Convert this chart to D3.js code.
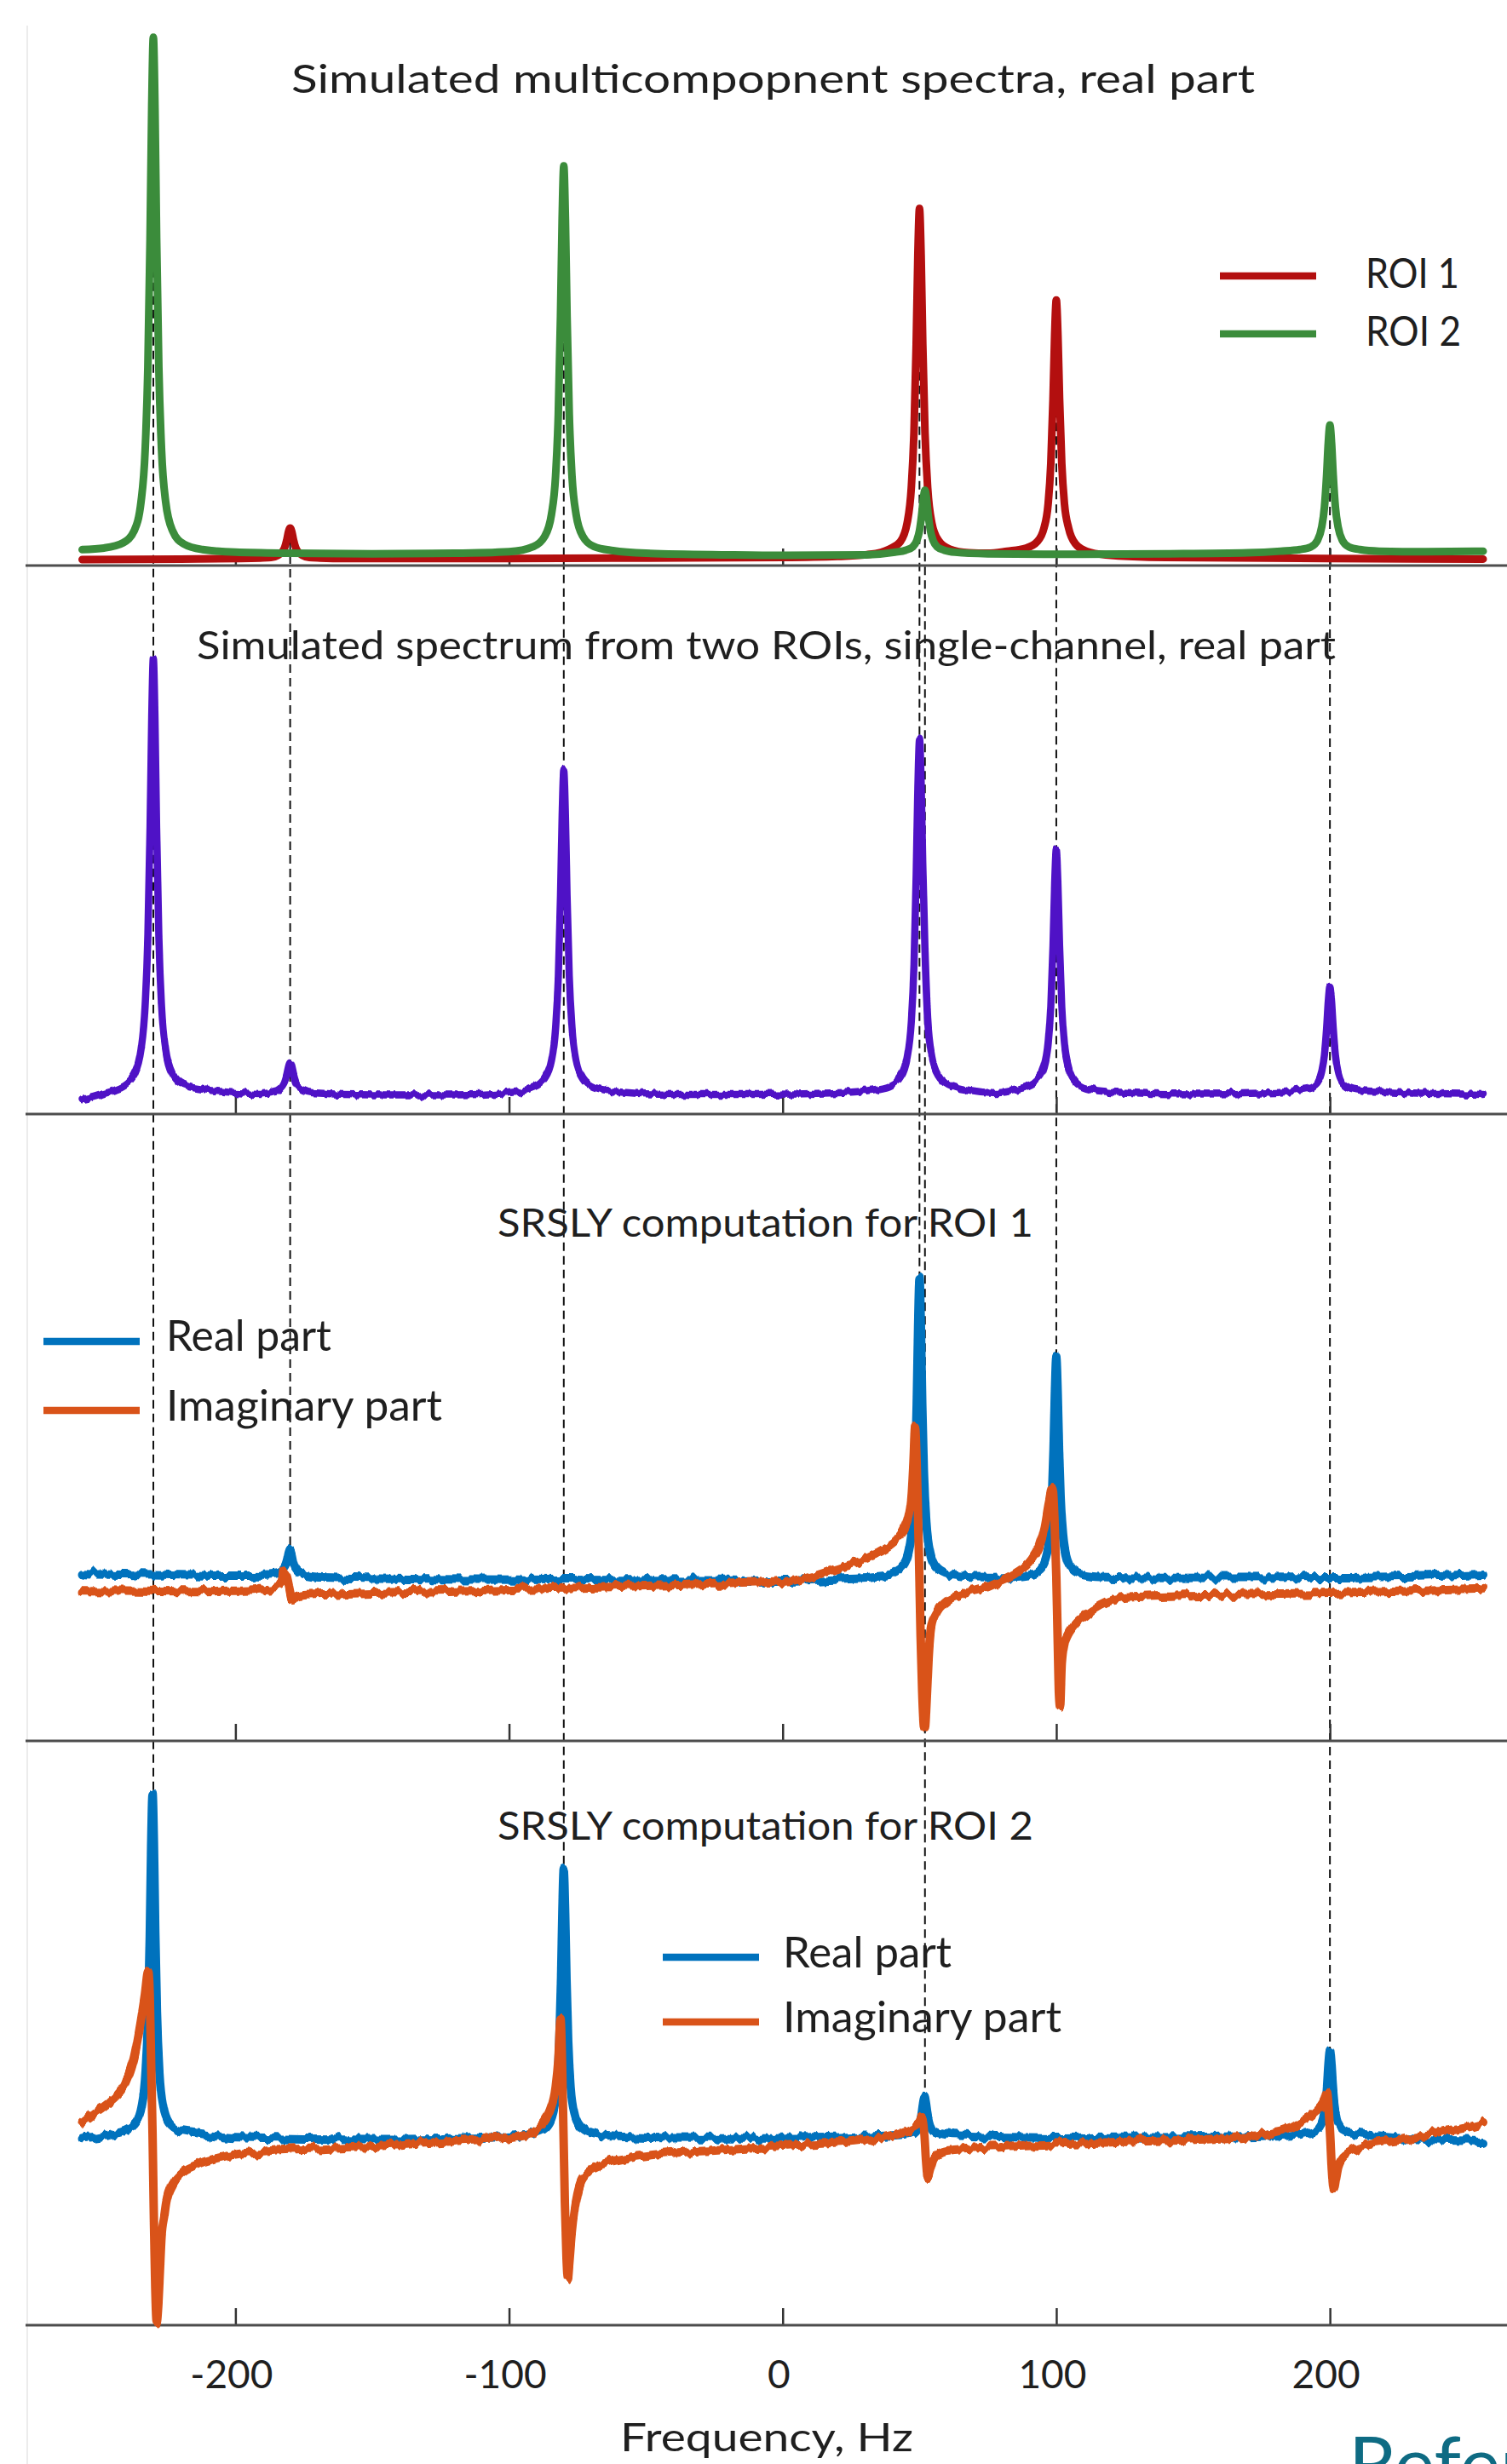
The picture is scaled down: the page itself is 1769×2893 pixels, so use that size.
<!DOCTYPE html>
<html>
<head>
<meta charset="utf-8">
<script src="https://cdn.jsdelivr.net/npm/d3@7"></script>
<style>
  body { margin: 0; background: #fff; }
  svg { display: block; font-family: Lato, "Open Sans", sans-serif; }
</style>
</head>
<body>
<div id="chart"></div>
<script>
// frequency axis
const freqTicks = [-200, -100, 0, 100, 200];
const panelTitles = [
  "Simulated multicompopnent spectra, real part",
  "Simulated spectrum from two ROIs, single-channel, real part",
  "SRSLY computation for ROI 1",
  "SRSLY computation for ROI 2",
];
const roiLabels = ["ROI 1", "ROI 2"];
const partLabels = ["Real part", "Imaginary part"];

// panel 1, ROI 1 real part (red)
const roi1Real = [
  [-256, 0], [-220, 0.001], [-198, 0.002], [-191, 0.003], [-187, 0.004], [-184.5, 0.008],
  [-183, 0.014], [-182, 0.023], [-181.2, 0.038], [-180.6, 0.053], [-180, 0.06], [-179.4, 0.053],
  [-178.8, 0.038], [-178, 0.023], [-177, 0.014], [-175.5, 0.008], [-173, 0.004], [-169, 0.003],
  [-160, 0.002], [-100, 0.002], [-50, 0.003], [0, 0.004], [20, 0.006], [32, 0.01], [39, 0.02],
  [43, 0.034], [45.5, 0.07], [47, 0.136], [48, 0.244], [48.8, 0.41], [49.4, 0.578], [50, 0.668],
  [50.6, 0.578], [51.2, 0.41], [52, 0.244], [53, 0.136], [54.5, 0.07], [57, 0.036], [61, 0.02],
  [68, 0.013], [75, 0.012], [82, 0.016], [89, 0.022], [93, 0.034], [95.5, 0.06], [97, 0.105],
  [98, 0.183], [98.8, 0.305], [99.4, 0.427], [100, 0.494], [100.6, 0.427], [101.2, 0.305],
  [102, 0.183], [103, 0.105], [104.5, 0.06], [107, 0.03], [111, 0.016], [118, 0.009],
  [140, 0.004], [200, 0.002], [256, 0.001],
];

// panel 1, ROI 2 real part (green)
const roi2Real = [
  [-256, 0.019], [-248, 0.022], [-241, 0.032], [-237, 0.055], [-234.5, 0.11], [-233, 0.208],
  [-232, 0.366], [-231.2, 0.611], [-230.6, 0.859], [-230, 0.994], [-229.4, 0.859], [-228.8, 0.611],
  [-228, 0.366], [-227, 0.208], [-225.5, 0.11], [-223, 0.055], [-219, 0.03], [-212, 0.019],
  [-200, 0.014], [-180, 0.012], [-150, 0.011], [-120, 0.012], [-100, 0.015], [-91, 0.025],
  [-87, 0.044], [-84.5, 0.086], [-83, 0.159], [-82, 0.277], [-81.2, 0.462], [-80.6, 0.647],
  [-80, 0.749], [-79.4, 0.647], [-78.8, 0.462], [-78, 0.277], [-77, 0.159], [-75.5, 0.086],
  [-73, 0.044], [-69, 0.025], [-62, 0.017], [-50, 0.012], [-20, 0.009], [0, 0.008], [30, 0.009],
  [41, 0.014], [45, 0.018], [47.5, 0.024], [49, 0.036], [50, 0.055], [50.8, 0.085], [51.4, 0.115],
  [52, 0.132], [52.6, 0.115], [53.2, 0.085], [54, 0.055], [55, 0.036], [56.5, 0.024], [59, 0.018],
  [63, 0.014], [75, 0.011], [100, 0.01], [140, 0.011], [170, 0.013], [182, 0.016], [189, 0.019],
  [193, 0.024], [195.5, 0.037], [197, 0.062], [198, 0.1], [198.8, 0.161], [199.4, 0.222],
  [200, 0.256], [200.6, 0.222], [201.2, 0.161], [202, 0.1], [203, 0.062], [204.5, 0.037],
  [207, 0.024], [211, 0.019], [218, 0.016], [235, 0.015], [256, 0.016],
];

// panel 2, single-channel spectrum (purple)
const singleChannel = [
  [-256, -0.016], [-252, -0.01], [-248, -0.002], [-244, 0.006], [-241, 0.014], [-237, 0.04],
  [-234.5, 0.098], [-233, 0.2], [-232, 0.36], [-231.2, 0.61], [-230.6, 0.862], [-230, 1.0],
  [-229.4, 0.862], [-228.8, 0.61], [-228, 0.36], [-227, 0.2], [-225.5, 0.1], [-223, 0.044],
  [-219, 0.018], [-212, 0.008], [-200, 0], [-190, -0.002], [-185, 0.003], [-183, 0.013],
  [-182, 0.024], [-181.2, 0.041], [-180.6, 0.058], [-180, 0.067], [-179.4, 0.058], [-178.8, 0.041],
  [-178, 0.024], [-177, 0.013], [-175.5, 0.007], [-172, 0], [-150, -0.005], [-120, -0.005],
  [-100, 0], [-91, 0.013], [-87, 0.033], [-84.5, 0.074], [-83, 0.149], [-82, 0.267], [-81.2, 0.453],
  [-80.6, 0.64], [-80, 0.743], [-79.4, 0.64], [-78.8, 0.453], [-78, 0.267], [-77, 0.149],
  [-75.5, 0.074], [-73, 0.033], [-69, 0.013], [-60, 0.002], [-40, -0.004], [-10, -0.004], [20, 0],
  [32, 0.006], [39, 0.015], [43, 0.036], [45.5, 0.082], [47, 0.163], [48, 0.294], [48.8, 0.5],
  [49.4, 0.703], [50, 0.816], [50.6, 0.72], [51.2, 0.53], [52, 0.33], [53, 0.17], [54.5, 0.085],
  [57, 0.04], [61, 0.018], [68, 0.006], [78, 0], [86, 0.008], [89, 0.014], [93, 0.03], [95.5, 0.058],
  [97, 0.112], [98, 0.201], [98.8, 0.341], [99.4, 0.482], [100, 0.559], [100.6, 0.482], [101.2, 0.341],
  [102, 0.201], [103, 0.112], [104.5, 0.058], [107, 0.025], [111, 0.01], [120, 0.002], [150, -0.003],
  [180, 0], [189, 0.007], [193, 0.012], [195.5, 0.024], [197, 0.049], [198, 0.087], [198.8, 0.148],
  [199.4, 0.209], [200, 0.243], [200.6, 0.209], [201.2, 0.148], [202, 0.087], [203, 0.049],
  [204.5, 0.024], [207, 0.012], [211, 0.006], [220, 0.002], [240, -0.002], [256, -0.004],
];

// panel 3, SRSLY for ROI 1
const srsly1Real = [
  [-256, 0.008], [-230, 0.004], [-200, 0], [-190, 0.001], [-186, 0.003], [-184, 0.007], [-182.5, 0.016],
  [-181.6, 0.03], [-181, 0.049], [-180.5, 0.071], [-180, 0.083], [-179.5, 0.071], [-179, 0.049],
  [-178.4, 0.03], [-177.5, 0.016], [-176, 0.007], [-174, 0], [-168, -0.006], [-130, -0.012],
  [-80, -0.014], [-30, -0.016], [0, -0.017], [20, -0.01], [34, -0.003], [40, 0.006], [44, 0.03],
  [46, 0.075], [47.5, 0.179], [48.4, 0.352], [49, 0.582], [49.5, 0.844], [50, 1.0], [50.5, 0.844],
  [51, 0.582], [51.6, 0.352], [52.5, 0.179], [54, 0.075], [56, 0.03], [60, 0.006], [66, -0.005],
  [75, -0.008], [84, -0.004], [90, 0.002], [94, 0.02], [96, 0.053], [97.5, 0.13], [98.4, 0.256],
  [99, 0.425], [99.5, 0.617], [100, 0.734], [100.5, 0.617], [101, 0.425], [101.6, 0.256],
  [102.5, 0.13], [104, 0.053], [106, 0.02], [110, 0.002], [116, -0.004], [140, -0.008],
  [200, -0.006], [240, 0], [256, 0.006],
];
const srsly1Imag = [
  [-256, -0.049], [-240, -0.05], [-220, -0.052], [-200, -0.051], [-190, -0.047], [-185, -0.04],
  [-183, -0.028], [-182.4, 0.011], [-181.4, 0.0], [-180.4, -0.04], [-179.6, -0.075], [-179, -0.083],
  [-178.2, -0.075], [-176.5, -0.068], [-173, -0.064], [-165, -0.062], [-150, -0.057], [-120, -0.051],
  [-100, -0.046], [-70, -0.04], [-50, -0.034], [-25, -0.028], [0, -0.02], [10, -0.005], [20, 0.025],
  [28, 0.05], [34, 0.075], [38, 0.095], [42, 0.125], [44.5, 0.16], [46, 0.2], [47.2, 0.28],
  [47.8, 0.38], [48.4, 0.5], [48.9, 0.4], [49.4, 0.22], [49.9, 0.02], [50.4, -0.2], [51, -0.39],
  [51.6, -0.5], [52, -0.509], [52.6, -0.42], [53.3, -0.28], [54.3, -0.174], [56.4, -0.122],
  [59.5, -0.089], [64.7, -0.063], [70, -0.048], [75, -0.035], [80, -0.015], [85.4, 0.01],
  [90.6, 0.05], [93.7, 0.1], [95.8, 0.17], [97.3, 0.25], [98.6, 0.297], [99.3, 0.2], [100, 0],
  [100.6, -0.25], [101, -0.4], [101.4, -0.437], [102, -0.3], [103, -0.23], [104.2, -0.2],
  [106, -0.174], [111, -0.13], [116, -0.1], [124, -0.075], [140, -0.068], [170, -0.064],
  [200, -0.06], [230, -0.052], [256, -0.045],
];

// panel 4, SRSLY for ROI 2
const srsly2Real = [
  [-256, -0.013], [-250, -0.008], [-246, 0], [-240, 0.012], [-236.3, 0.035], [-234.3, 0.08],
  [-232.8, 0.185], [-231.9, 0.358], [-231.3, 0.588], [-230.8, 0.85], [-230.3, 0.998], [-229.8, 0.85],
  [-229.3, 0.588], [-228.7, 0.358], [-227.8, 0.185], [-226.3, 0.08], [-224.3, 0.035], [-220.3, 0.012],
  [-214, 0.004], [-200, -0.008], [-150, -0.014], [-110, -0.01], [-96, -0.004], [-90, 0.004],
  [-86, 0.025], [-84, 0.06], [-82.5, 0.141], [-81.6, 0.275], [-81, 0.453], [-80.5, 0.656],
  [-80, 0.775], [-79.5, 0.656], [-79, 0.453], [-78.4, 0.275], [-77.5, 0.141], [-76, 0.06],
  [-74, 0.025], [-70, 0.004], [-62, -0.006], [-30, -0.012], [0, -0.012], [35, -0.005], [42, -0.002],
  [46, 0.002], [48, 0.007], [49.3, 0.019], [50.2, 0.039], [50.8, 0.066], [51.3, 0.095], [51.8, 0.113],
  [52.3, 0.095], [52.8, 0.066], [53.4, 0.039], [54.3, 0.019], [55.8, 0.007], [58, 0.002], [62, -0.003],
  [100, -0.01], [150, -0.008], [184, -0.002], [190, 0.003], [194, 0.009], [196, 0.02], [197.5, 0.046],
  [198.4, 0.088], [199, 0.145], [199.5, 0.209], [200, 0.245], [200.5, 0.209], [201, 0.145],
  [201.6, 0.088], [202.5, 0.046], [204, 0.02], [206, 0.009], [210, 0.003], [218, -0.006],
  [235, -0.015], [256, -0.02],
];
const srsly2Imag = [
  [-256, 0.033], [-251, 0.065], [-245.6, 0.098], [-240.3, 0.15], [-237.2, 0.222], [-234.7, 0.328],
  [-233.1, 0.41], [-231.9, 0.478], [-231.3, 0.4], [-230.8, 0.2], [-230.3, 0], [-229.8, -0.25],
  [-229.3, -0.45], [-228.8, -0.55], [-228.2, -0.5], [-227.6, -0.4], [-227, -0.3], [-226, -0.24],
  [-225.3, -0.2], [-222.9, -0.145], [-219.7, -0.113], [-214.5, -0.09], [-204, -0.065], [-188, -0.048],
  [-167, -0.04], [-150, -0.035], [-120, -0.02], [-100, -0.008], [-92, 0.005], [-88, 0.03],
  [-85, 0.073], [-83, 0.14], [-82, 0.22], [-81.2, 0.34], [-80.6, 0.2], [-80.1, 0], [-79.6, -0.2],
  [-79, -0.36], [-78.5, -0.42], [-78, -0.38], [-77.2, -0.3], [-76, -0.22], [-75, -0.175],
  [-72, -0.118], [-65, -0.085], [-50, -0.063], [-20, -0.045], [0, -0.035], [30, -0.018], [42, 0],
  [47, 0.015], [50, 0.032], [51, 0.05], [51.8, 0], [52.4, -0.08], [53, -0.125], [54, -0.1],
  [55, -0.073], [57, -0.055], [60, -0.045], [80, -0.035], [120, -0.023], [160, -0.012], [180, 0.005],
  [186, 0.02], [190, 0.038], [194, 0.06], [196.5, 0.08], [198, 0.1], [199, 0.123], [199.6, 0.07],
  [200.1, 0], [200.7, -0.1], [201.5, -0.158], [202.2, -0.13], [203, -0.095], [204.5, -0.07],
  [206, -0.058], [209, -0.045], [212, -0.035], [225, -0.018], [240, 0.005], [250, 0.02], [256, 0.033],
];

// dashed peak markers: freq, from panel, value, to panel, value
const peakMarkers = [
  [-230, 0, 0.994, 3, 0.998],
  [-180, 0, 0.06, 2, 0.083],
  [-80, 0, 0.749, 3, 0.775],
  [50, 0, 0.668, 2, 1.0],
  [52, 0, 0.22, 3, 0.113],
  [100, 0, 0.494, 2, 0.734],
  [200, 0, 0.256, 3, 0.245],
];

const W = 1769, H = 2893;
const ink = "#1f1f1f";
const colors = { roi1: "#b30f0f", roi2: "#3b8c3b", single: "#4f12c6", re: "#0072bd", im: "#d95319" };

const svg = d3.select("#chart").append("svg").attr("width", W).attr("height", H);
svg.append("rect").attr("width", W).attr("height", H).attr("fill", "#fff");

const x = d3.scaleLinear().domain([-256, 256]).range([96.5, 1741]);

// layout of the four stacked panels (pixel rows for value 0 and 1)
const layout = [
  { y0: 657, y1: 40, axisY: 664, band: [0, 680] },
  { y0: 1283, y1: 773, axisY: 1308, band: [700, 640] },
  { y0: 1850, y1: 1500, axisY: 2044, band: [1400, 680] },
  { y0: 2506, y1: 2106, axisY: 2730, band: [2060, 700] },
];
const yScales = layout.map(p => d3.scaleLinear().domain([0, 1]).range([p.y0, p.y1]));

// jitter filters to mimic the noisy traces
const defs = svg.append("defs");
function addJitter(id, band, seed, scale) {
  const f = defs.append("filter").attr("id", id)
    .attr("filterUnits", "userSpaceOnUse")
    .attr("x", 0).attr("y", band[0]).attr("width", W).attr("height", band[1])
    .attr("color-interpolation-filters", "sRGB");
  f.append("feTurbulence").attr("type", "fractalNoise")
    .attr("baseFrequency", "0.12 0.003").attr("numOctaves", 2).attr("seed", seed).attr("result", "n");
  f.append("feColorMatrix").attr("in", "n").attr("type", "matrix")
    .attr("values", "0 0 0 0 0.5  0 1 0 0 0  0 0 0 0 0  0 0 0 0 1").attr("result", "m");
  f.append("feDisplacementMap").attr("in", "SourceGraphic").attr("in2", "m")
    .attr("scale", scale).attr("xChannelSelector", "R").attr("yChannelSelector", "G");
}

// left border
svg.append("line").attr("x1", 32).attr("x2", 32).attr("y1", 30).attr("y2", H)
  .attr("stroke", "#ececec").attr("stroke-width", 2);

// dashed markers (under the traces)
svg.append("g").selectAll("line").data(peakMarkers).join("line")
  .attr("x1", d => x(d[0])).attr("x2", d => x(d[0]))
  .attr("y1", d => yScales[d[1]](d[2])).attr("y2", d => yScales[d[3]](d[4]))
  .attr("stroke", "#111").attr("stroke-width", 2).attr("stroke-dasharray", "10,6");

// panel baselines and ticks
layout.forEach((p, i) => {
  const axis = d3.axisBottom(x).tickValues(freqTicks).tickSize(-20).tickPadding(41)
    .tickFormat(i === 3 ? (d => String(d)) : "");
  const g = svg.append("g").attr("transform", `translate(0,${p.axisY})`).call(axis);
  g.select(".domain").remove();
  g.selectAll(".tick line").attr("stroke", "#333").attr("stroke-width", 2.5);
  g.selectAll(".tick text").attr("fill", ink).attr("font-size", 46).attr("dx", -5)
    .attr("font-family", "Lato, sans-serif");
  svg.append("line").attr("x1", 30).attr("x2", W).attr("y1", p.axisY).attr("y2", p.axisY)
    .attr("stroke", "#4d4d4d").attr("stroke-width", 3.2);
});

// titles
const titlePos = [[342, 109, 1131], [231, 774, 1337], [584, 1452, 629], [584, 2160, 629]];
svg.append("g").selectAll("text").data(panelTitles).join("text")
  .attr("x", (d, i) => titlePos[i][0]).attr("y", (d, i) => titlePos[i][1])
  .attr("textLength", (d, i) => titlePos[i][2]).attr("lengthAdjust", "spacingAndGlyphs")
  .attr("font-size", 46).attr("fill", ink).text(d => d);

// traces
const series = [
  { data: roi1Real, panel: 0, color: colors.roi1, width: 9 },
  { data: roi2Real, panel: 0, color: colors.roi2, width: 9 },
  { data: singleChannel, panel: 1, color: colors.single, width: 8.5, jitter: [11, 9] },
  { data: srsly1Real, panel: 2, color: colors.re, width: 10, jitter: [21, 11] },
  { data: srsly1Imag, panel: 2, color: colors.im, width: 10, jitter: [37, 11] },
  { data: srsly2Real, panel: 3, color: colors.re, width: 10, jitter: [5, 11] },
  { data: srsly2Imag, panel: 3, color: colors.im, width: 10, jitter: [63, 11] },
];
series.forEach((s, i) => {
  const ys = yScales[s.panel];
  const line = d3.line().x(d => x(d[0])).y(d => ys(d[1])).curve(d3.curveMonotoneX);
  const path = svg.append("path").datum(s.data).attr("d", line)
    .attr("fill", "none").attr("stroke", s.color).attr("stroke-width", s.width)
    .attr("stroke-linejoin", "round").attr("stroke-linecap", "round");
  if (s.jitter) {
    addJitter("jit" + i, layout[s.panel].band, s.jitter[0], s.jitter[1]);
    path.attr("filter", `url(#jit${i})`);
  }
});

// legends
function legend(items, lx, ly, tx, rows, fontSize, widths) {
  const g = svg.append("g");
  items.forEach((it, k) => {
    g.append("line").attr("x1", lx[0]).attr("x2", lx[1]).attr("y1", ly[k]).attr("y2", ly[k])
      .attr("stroke", it.color).attr("stroke-width", 8.5);
    g.append("text").attr("x", tx).attr("y", rows[k]).attr("font-size", fontSize)
      .attr("textLength", widths[k]).attr("lengthAdjust", "spacingAndGlyphs")
      .attr("fill", ink).text(it.label);
  });
}
legend([{ label: roiLabels[0], color: colors.roi1 }, { label: roiLabels[1], color: colors.roi2 }],
  [1432, 1545], [324, 392], 1603, [338, 406], 49, [110, 112]);
legend([{ label: partLabels[0], color: colors.re }, { label: partLabels[1], color: colors.im }],
  [51, 164], [1575, 1656], 195, [1586, 1668], 51, [194, 324]);
legend([{ label: partLabels[0], color: colors.re }, { label: partLabels[1], color: colors.im }],
  [778, 891], [2298, 2374], 919, [2310, 2386], 51, [198, 327]);

// axis title
svg.append("text").attr("x", 728).attr("y", 2878).attr("font-size", 46)
  .attr("textLength", 344).attr("lengthAdjust", "spacingAndGlyphs")
  .attr("fill", ink).text("Frequency, Hz");

// clipped heading at the page bottom, as in the source page
svg.append("text").attr("x", 1583).attr("y", 2925).attr("font-size", 90)
  .attr("fill", "#0e6b83").text("References");
</script>
</body>
</html>
